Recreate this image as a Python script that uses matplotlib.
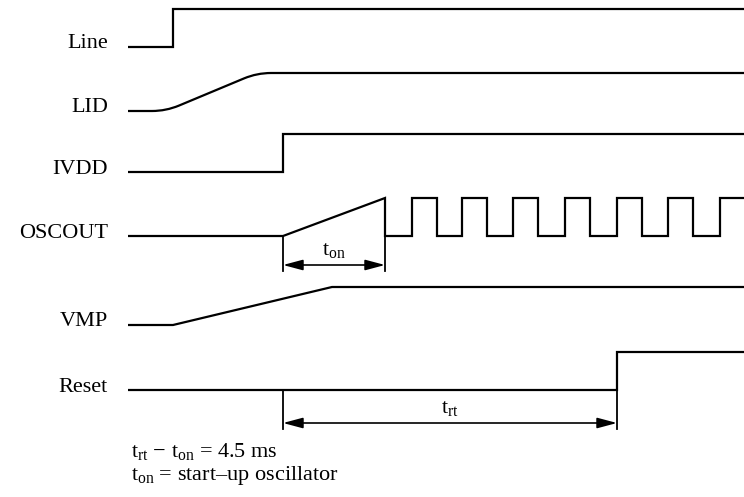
import numpy as np
import matplotlib.pyplot as plt
from matplotlib.path import Path
from matplotlib.patches import PathPatch

# ==========================================================
# Timing diagram data (x = time position, v = logic level 0/1)
# ==========================================================
labels = ["Line", "LID", "IVDD", "OSCOUT", "VMP", "Reset"]
rows = [47, 111, 172, 236, 325, 390]  # baseline (low level) of each trace
amp = 38

t_start = 128
t_end = 744

line_t = [t_start, 173, 173, t_end]
line_v = [0, 0, 1, 1]

lid_t = [t_start, 166, 257, t_end]   # corners are rounded
lid_v = [0, 0, 1, 1]

ivdd_t = [t_start, 283, 283, t_end]
ivdd_v = [0, 0, 1, 1]

osc_ramp_t = [t_start, 283, 385, 385]
osc_ramp_v = [0, 0, 1, 0]
osc_edges = [385, 412, 437, 462, 487, 513, 538, 565, 590, 617, 642, 668, 693, 720]

vmp_t = [t_start, 173, 332, t_end]
vmp_v = [0, 0, 1, 1]

reset_t = [t_start, 617, 617, t_end]
reset_v = [0, 0, 1, 1]

# dimension arrows: (from, to, row of ticks, arrow y, label)
t_on_span = [283, 385]
t_rt_span = [283, 617]

plt.rcParams["font.family"] = ["Liberation Serif", "DejaVu Serif"]
plt.rcParams["mathtext.fontset"] = "custom"
plt.rcParams["mathtext.rm"] = "Liberation Serif"
plt.rcParams["mathtext.it"] = "Liberation Serif:italic"

LW = 1.6
FS = 16

fig = plt.figure(figsize=(7.44, 4.97), dpi=100)
ax = fig.add_axes([0, 0, 1, 1])
ax.set_xlim(0, 744)
ax.set_ylim(497, 0)
ax.axis("off")


def level(row, v):
    return rows[row] - amp * np.asarray(v, dtype=float)


def trace(row, t, v):
    ax.plot(t, level(row, v), color="black", lw=LW, solid_joinstyle="miter",
            solid_capstyle="butt")


# Line
trace(0, line_t, line_v)

# LID - piecewise linear with rounded corners
pts = np.column_stack([lid_t, level(1, lid_v)])
verts = [pts[0]]
codes = [Path.MOVETO]
r = 14
for i in range(1, len(pts) - 1):
    p, a, b = pts[i], pts[i - 1], pts[i + 1]
    da = (a - p) / np.linalg.norm(a - p)
    db = (b - p) / np.linalg.norm(b - p)
    verts += [p + da * r, p, p + db * r]
    codes += [Path.LINETO, Path.CURVE3, Path.CURVE3]
verts.append(pts[-1])
codes.append(Path.LINETO)
ax.add_patch(PathPatch(Path(verts, codes), fill=False, lw=LW, color="black"))

# IVDD
trace(2, ivdd_t, ivdd_v)

# OSCOUT: start-up ramp then square wave
sq_v = [i % 2 for i in range(len(osc_edges))]  # level after each edge
sq_t = list(np.repeat(osc_edges, 2)[1:]) + [t_end]
sq_lv = list(np.repeat(sq_v, 2))
trace(3, osc_ramp_t + sq_t, osc_ramp_v + sq_lv)

# VMP
trace(4, vmp_t, vmp_v)

# Reset
trace(5, reset_t, reset_v)

# labels
for name, y in zip(labels, rows):
    ax.text(108, y + 1.5, name, ha="right", va="baseline", fontsize=FS)


def dimension(x0, x1, ytop, ybot, yarr, text, ytext):
    for x in (x0, x1):
        ax.plot([x, x], [ytop, ybot], color="black", lw=1.3)
    ax.annotate("", xy=(x0, yarr), xytext=(x1, yarr),
                arrowprops=dict(arrowstyle="<|-|>,head_length=1.2,head_width=0.32",
                                color="black", lw=1.2, mutation_scale=10,
                                shrinkA=0, shrinkB=0))
    ax.text((x0 + x1) / 2, ytext, text, ha="center", va="baseline", fontsize=FS)


dimension(t_on_span[0], t_on_span[1], rows[3] + 1, 271, 265,
          r"$\mathrm{t_{on}}$", 255)
dimension(t_rt_span[0], t_rt_span[1], rows[5] + 1, 429, 423,
          r"$\mathrm{t_{rt}}$", 413)

# notes
ax.text(131, 457, r"$\mathrm{t_{rt}}$ − $\mathrm{t_{on}}$ = 4.5 ms",
        ha="left", va="baseline", fontsize=FS)
ax.text(131, 480, r"$\mathrm{t_{on}}$ = start–up oscillator",
        ha="left", va="baseline", fontsize=FS)

plt.savefig("out.png", dpi=100)
plt.close()
